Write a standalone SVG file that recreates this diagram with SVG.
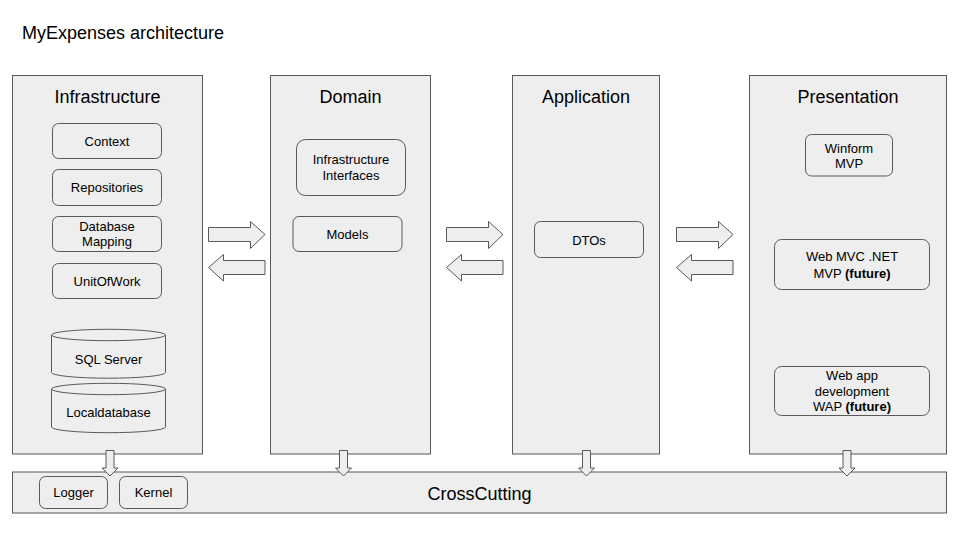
<svg xmlns="http://www.w3.org/2000/svg" width="960" height="540" viewBox="0 0 960 540">
<style>
text{font-family:"Liberation Sans",Arial,sans-serif;fill:#000}
.panel{fill:#eeeeee;stroke:#595959;stroke-width:1}
.box{fill:#eeeeee;stroke:#595959;stroke-width:1}
.arr{fill:#eeeeee;stroke:#595959;stroke-width:1;stroke-linejoin:miter}
.t18{font-size:18px;text-anchor:middle}
.t13{font-size:13px;text-anchor:middle}
</style>
<rect width="960" height="540" fill="#ffffff"/>
<text x="22" y="39" style="font-size:18px">MyExpenses architecture</text>

<g id="crosscutting">
<rect class="panel" x="12.5" y="472" width="934" height="41"/>
<text class="t18" x="479.5" y="500">CrossCutting</text>
</g>
<g id="logger"><rect class="box" x="39.5" y="476.5" width="68" height="32" rx="6"/><text class="t13" x="73.5" y="497">Logger</text></g>
<g id="kernel"><rect class="box" x="119.5" y="476.5" width="68" height="32" rx="6"/><text class="t13" x="153.5" y="497">Kernel</text></g>

<g id="infrastructure">
<rect class="panel" x="12.5" y="75.5" width="190" height="378.5"/>
<text class="t18" x="107.5" y="102.5">Infrastructure</text>
</g>
<g id="context"><rect class="box" x="52.5" y="123.5" width="109" height="35" rx="6"/><text class="t13" x="107" y="146">Context</text></g>
<g id="repositories"><rect class="box" x="52.5" y="169.5" width="109" height="36" rx="6"/><text class="t13" x="107" y="192">Repositories</text></g>
<g id="dbmapping"><rect class="box" x="52.5" y="216.5" width="109" height="35" rx="6"/><text class="t13" x="107" y="230.5">Database</text><text class="t13" x="107" y="246">Mapping</text></g>
<g id="unitofwork"><rect class="box" x="52.5" y="263.5" width="109" height="35" rx="6"/><text class="t13" x="107" y="285.5">UnitOfWork</text></g>
<g id="sqlserver">
<path class="box" d="M51.5,335 A57,5.7 0 0 1 165.5,335 L165.5,372.5 A57,5.7 0 0 1 51.5,372.5 Z"/>
<path d="M51.5,335 A57,5.7 0 0 0 165.5,335" fill="none" stroke="#595959"/>
<text class="t13" x="108.5" y="363.5">SQL Server</text>
</g>
<g id="localdatabase">
<path class="box" d="M51.5,389 A57,5.7 0 0 1 165.5,389 L165.5,427 A57,5.7 0 0 1 51.5,427 Z"/>
<path d="M51.5,389 A57,5.7 0 0 0 165.5,389" fill="none" stroke="#595959"/>
<text class="t13" x="108.5" y="416.5">Localdatabase</text>
</g>

<g id="domain">
<rect class="panel" x="270.5" y="75.5" width="160" height="378.5"/>
<text class="t18" x="350.5" y="102.5">Domain</text>
</g>
<g id="infra-interfaces"><rect class="box" x="296.5" y="139.5" width="109" height="56" rx="9"/><text class="t13" x="351" y="164">Infrastructure</text><text class="t13" x="351" y="180">Interfaces</text></g>
<g id="models"><rect class="box" x="293" y="216.5" width="109" height="35" rx="6"/><text class="t13" x="347.5" y="239">Models</text></g>

<g id="application">
<rect class="panel" x="512.5" y="75.5" width="147" height="378.5"/>
<text class="t18" x="586" y="102.5">Application</text>
</g>
<g id="dtos"><rect class="box" x="534.5" y="221.5" width="109" height="36" rx="6"/><text class="t13" x="589" y="244.5">DTOs</text></g>

<g id="presentation">
<rect class="panel" x="749.5" y="75.5" width="197" height="378.5"/>
<text class="t18" x="848" y="102.5">Presentation</text>
</g>
<g id="winform"><rect class="box" x="805.5" y="134.5" width="87" height="41.5" rx="6"/><text class="t13" x="849" y="152.5">Winform</text><text class="t13" x="849" y="168">MVP</text></g>
<g id="webmvc"><rect class="box" x="774.5" y="239.5" width="155" height="50" rx="7"/><text class="t13" x="852" y="261">Web MVC .NET</text><text class="t13" x="852" y="278">MVP <tspan font-weight="bold">(future)</tspan></text></g>
<g id="webapp"><rect class="box" x="774.5" y="366.5" width="155" height="49" rx="7"/><text class="t13" x="852" y="379.5">Web app</text><text class="t13" x="852" y="395.5">development</text><text class="t13" x="852" y="410.5">WAP <tspan font-weight="bold">(future)</tspan></text></g>

<g id="connectors">
<path class="arr" d="M208.5,227.5 H250.5 V221.5 L265,234.5 L250.5,248.5 V241.5 H208.5 Z"/>
<path class="arr" d="M265,260.5 H223.5 V254.5 L208.5,267.5 L223.5,281 V274.5 H265 Z"/>
<path class="arr" d="M446.5,227.5 H488.5 V221.5 L503,234.5 L488.5,248.5 V241.5 H446.5 Z"/>
<path class="arr" d="M503,260.5 H461.5 V254.5 L446.5,267.5 L461.5,281 V274.5 H503 Z"/>
<path class="arr" d="M676.5,227.5 H718.5 V221.5 L733,234.5 L718.5,248.5 V241.5 H676.5 Z"/>
<path class="arr" d="M733,260.5 H691.5 V254.5 L676.5,267.5 L691.5,281 V274.5 H733 Z"/>
<path class="arr" d="M106,450.5 H114 V468 H118 L110,476 L102,468 H106 Z"/>
<path class="arr" d="M339.5,450.5 H347.5 V468 H351.5 L343.5,476 L335.5,468 H339.5 Z"/>
<path class="arr" d="M582.5,450.5 H590.5 V468 H594.5 L586.5,476 L578.5,468 H582.5 Z"/>
<path class="arr" d="M843,450.5 H851 V468 H855 L847,476 L839,468 H843 Z"/>
</g>
</svg>
